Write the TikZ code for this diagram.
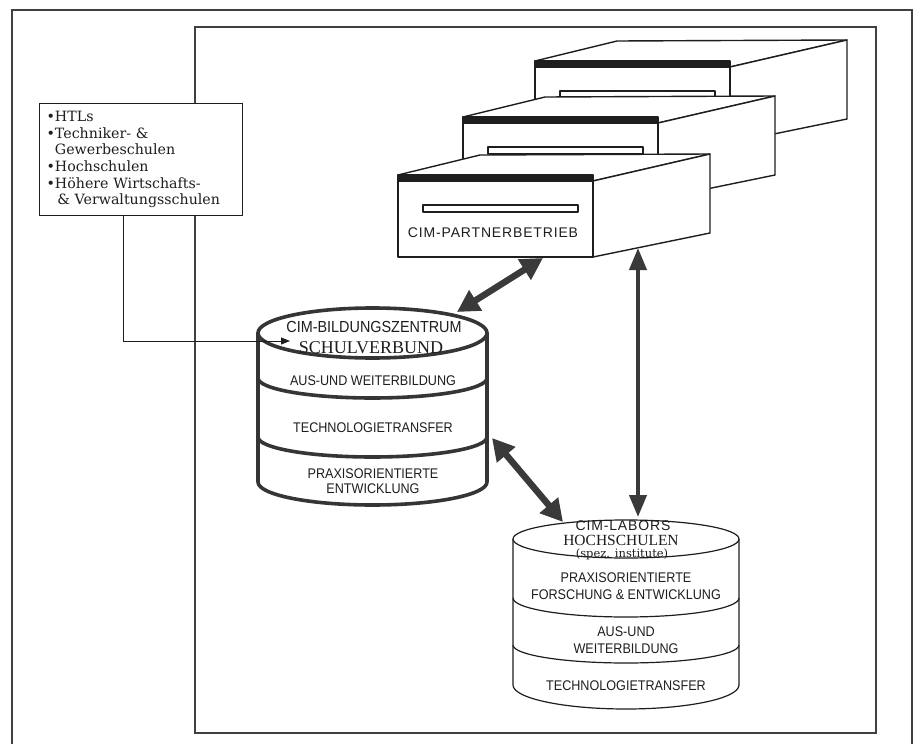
\documentclass[tikz,border=0pt]{standalone}
\usepackage{fontspec}
\setmainfont{Liberation Serif}
\setsansfont{Liberation Sans}[FakeStretch=0.9]
\newfontfamily\boxfont{DejaVu Serif}
\newfontfamily\widesans{Liberation Sans}[LetterSpace=6]
\usetikzlibrary{arrows.meta}
\definecolor{ink}{HTML}{1E1E1E}
\definecolor{arrowgray}{HTML}{3A3A3A}
\tikzset{
  frameline/.style={draw=ink!85, line width=1.2pt},
  boxline/.style={draw=ink, line width=1.4pt, line join=round},
  cylA/.style={draw=ink!90, line width=3.6pt, line cap=round, line join=round},
  cylB/.style={draw=ink, line width=1.2pt},
  thinline/.style={draw=ink, line width=1pt},
  bighead/.tip={Triangle[length=22pt,width=23pt]},
  midhead/.tip={Triangle[length=22pt,width=17pt]},
  bigarrow/.style={draw=arrowgray, fill=arrowgray, line width=6.5pt, bighead-bighead},
  vertarrow/.style={draw=arrowgray, fill=arrowgray, line width=4pt, midhead-midhead},
  sanslab/.style={font=\sffamily\fontsize{14}{16}\selectfont, inner sep=0pt, text=ink},
  bigsans/.style={font=\sffamily\fontsize{16}{18}\selectfont, inner sep=0pt, text=ink},
  widelab/.style={font=\widesans\fontsize{14}{16}\selectfont, inner sep=0pt, text=ink},
  serlab/.style={font=\rmfamily\fontsize{16}{18}\selectfont, inner sep=0pt, text=ink},
}
\newcommand{\drawer}[2]{%
  \filldraw[boxline, fill=white] (#1,#2) -- ({#1+82},{#2-20}) -- ({#1+312},{#2-21}) -- ({#1+195},{#2+6}) -- cycle;
  \filldraw[boxline, fill=white] ({#1+195},{#2+6}) -- ({#1+312},{#2-21}) -- ({#1+312},{#2+58}) -- ({#1+195},{#2+82}) -- cycle;
  \filldraw[boxline, fill=white] (#1,#2) rectangle ({#1+195},{#2+82});
  \fill[ink] (#1,#2) rectangle ({#1+195},{#2+7});
  \draw[boxline, line width=1.2pt] ({#1+25},{#2+30}) rectangle ({#1+180},{#2+37});
}
\begin{document}
\begin{tikzpicture}[x=1pt, y=-1pt]
\useasboundingbox (0,0) rectangle (919,744);
\fill[white] (0,0) rectangle (919,744);

% frames
\draw[frameline] (12,744) -- (12,10) -- (912,10) -- (912,744);
\draw[frameline] (195,27) rectangle (876,733);

% school list
\node[draw=ink, line width=1.2pt, fill=white, anchor=north west, minimum height=112pt,
      text width=189pt, inner xsep=7pt, align=left,
      font=\boxfont\fontsize{14.2}{16.7}\selectfont, text=ink] (schools) at (39,103)
  {•HTLs\\
   •Techniker- \&\\
   \phantom{•}Gewerbeschulen\\
   •Hochschulen\\
   •Höhere Wirtschafts-\\
   \phantom{•}\,\& Verwaltungsschulen};

% drawers
\drawer{535}{61}
\drawer{463}{117}
\drawer{398}{175}
\node[inner sep=0pt, minimum width=195pt, minimum height=82pt, anchor=north west] (partner) at (398,175) {};
\node[widelab] (partnerlab) at (493,233) {CIM-PARTNERBETRIEB};

% cylinder 1
\filldraw[cylA, fill=white] (258,333) -- (258,482) arc[start angle=180, end angle=360, x radius=114.5pt, y radius=23pt] -- (487,333);
\draw[cylA] (372.5,333) ellipse[x radius=114.5pt, y radius=25pt];
\draw[cylA] (258,378) arc[start angle=180, end angle=360, x radius=114.5pt, y radius=20pt];
\draw[cylA] (258,437) arc[start angle=180, end angle=360, x radius=114.5pt, y radius=20pt];
\node[inner sep=0pt, minimum width=229pt, minimum height=197pt] (bz) at (372.5,406) {};
\node[bigsans] (bz1) at (374,327) {CIM-BILDUNGSZENTRUM};
\node[serlab, font=\rmfamily\fontsize{18}{20}\selectfont] (bz2) at (371,348) {SCHULVERBUND};
\node[sanslab] (bz3) at (373,381) {AUS-UND WEITERBILDUNG};
\node[sanslab] (bz4) at (373,428) {TECHNOLOGIETRANSFER};
\node[sanslab, align=center, font=\sffamily\fontsize{14}{15.5}\selectfont] (bz5) at (373,481) {PRAXISORIENTIERTE\\ENTWICKLUNG};

% cylinder 2
\filldraw[cylB, fill=white] (513,539) -- (513,685) arc[start angle=180, end angle=360, x radius=113pt, y radius=24pt] -- (739,539);
\draw[cylB] (626,539) ellipse[x radius=113pt, y radius=19pt];
\draw[cylB] (513,598) arc[start angle=180, end angle=360, x radius=113pt, y radius=19pt];
\draw[cylB] (513,645) arc[start angle=180, end angle=360, x radius=113pt, y radius=18pt];
\node[inner sep=0pt, minimum width=226pt, minimum height=190pt] (labors) at (626,615) {};
\node[widelab] (lb1) at (623,526) {CIM-LABORS};
\node[serlab, font=\rmfamily\fontsize{15.5}{17}\selectfont] (lb2) at (621,540.5) {HOCHSCHULEN};
\node[inner sep=0pt, font=\boxfont\fontsize{11.5}{13}\selectfont, text=ink] (lb3) at (622,554) {(spez. institute)};
\node[sanslab, align=center, font=\sffamily\fontsize{14}{17}\selectfont] (lb4) at (626,586) {PRAXISORIENTIERTE\\FORSCHUNG \& ENTWICKLUNG};
\node[sanslab, align=center, font=\sffamily\fontsize{14}{16.5}\selectfont] (lb5) at (626,640) {AUS-UND\\WEITERBILDUNG};
\node[sanslab] (lb6) at (626,686) {TECHNOLOGIETRANSFER};

% connector from school list
\coordinate (bzin) at (290,341);
\draw[thinline, -{Triangle[length=9pt,width=7pt]}] ([xshift=84pt]schools.south west) |- (bzin);

% big arrows
\coordinate (a1top) at (543,258);
\coordinate (a1bot) at (457,312);
\coordinate (a2top) at (638,248);
\coordinate (a2bot) at (638,517);
\coordinate (a3top) at (492,438);
\coordinate (a3bot) at (563,522);
\draw[bigarrow] (a1bot) -- (a1top);
\draw[vertarrow] (a2top) -- (a2bot);
\draw[bigarrow] (a3top) -- (a3bot);
\end{tikzpicture}
\end{document}
